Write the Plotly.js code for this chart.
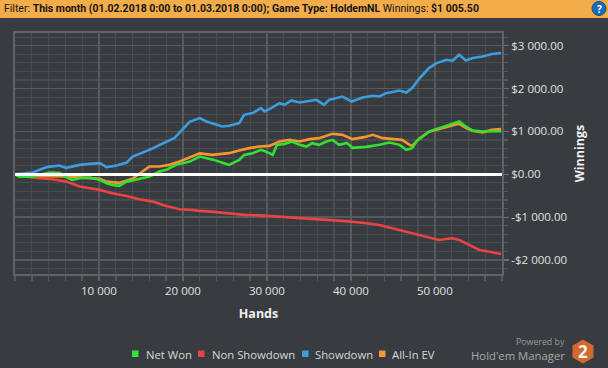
<!DOCTYPE html>
<html>
<head>
<meta charset="utf-8">
<script src="https://cdn.plot.ly/plotly-3.0.1.min.js"></script>
<style>
html,body{margin:0;padding:0;background:#383b3f;}
#chart{width:608px;height:368px;}
</style>
</head>
<body>
<div id="chart"></div>
<script>
// ---- data ----
const seriesNames = ["Net Won", "Non Showdown", "Showdown", "All-In EV"];

const netWonHands = [0,500,2100,4100,5300,6100,6800,7700,8900,10100,10900,11600,12400,13300,14000,15200,16000,17200,18000,19200,20800,22000,22800,23700,24900,25500,26700,27300,28300,29300,30300,30700,31200,32100,33000,33900,34700,35400,36200,37100,37800,38600,39500,40200,41800,43400,44600,45800,46600,47300,47800,48500,49300,50500,51700,52900,53700,54500,55700,57300,57900];
const netWonValues = [0,-54,-54,40,33,-68,-131,-91,-77,-131,-208,-248,-271,-171,-147,-91,-54,63,103,220,297,413,376,336,259,220,336,453,493,570,493,453,687,710,764,687,647,726,687,764,804,687,733,617,640,687,741,687,570,610,764,881,997,1077,1154,1231,1114,1021,997,1014,1005];

const nonShowdownHands = [0,1400,2900,4500,6100,7700,8900,10100,11600,13300,14800,16400,18000,19600,21100,22000,23700,25500,27300,29100,30900,32700,34500,36200,38000,39800,41600,43400,44800,45800,48200,49700,50500,52100,52900,54500,55300,56500,57900];
const nonShowdownValues = [0,-54,-91,-114,-171,-287,-325,-364,-442,-505,-582,-638,-738,-815,-832,-855,-878,-913,-948,-960,-983,-995,-1018,-1042,-1065,-1100,-1135,-1182,-1252,-1299,-1416,-1493,-1532,-1493,-1532,-1689,-1766,-1806,-1859];

const showdownHands = [0,1400,2100,3900,5300,6100,7700,8900,10100,10900,12100,13300,14000,16000,17200,19000,20800,22000,22800,24700,25500,26700,27300,28300,29300,29700,30300,31500,32100,32900,33900,35100,35900,36800,37400,39000,40100,41400,42600,43400,44200,45800,46600,47300,48200,49300,50200,51400,52100,52900,53700,54500,55700,56800,57900];
const showdownValues = [0,26,40,173,203,150,220,243,259,166,203,273,413,570,686,850,1224,1310,1231,1114,1131,1194,1388,1427,1544,1465,1521,1661,1621,1722,1675,1722,1738,1621,1738,1815,1698,1792,1831,1815,1894,1955,1909,2011,2245,2478,2595,2672,2649,2789,2656,2712,2749,2806,2829];

const allInEVHands = [0,2100,6100,10100,10900,12400,14000,15200,16000,17200,18400,19600,22000,23500,25500,26700,27900,29100,30300,31500,32700,33900,35100,36200,37800,39000,40200,41600,42600,43800,44900,46100,47000,47300,48200,49300,50500,51700,52900,53700,54500,55700,56800,57900];
const allInEVValues = [0,-37,-49,-107,-171,-201,-107,56,180,180,220,297,488,453,493,554,610,647,663,764,804,764,820,843,944,920,820,867,920,843,820,804,687,663,843,990,1054,1107,1177,1084,1014,979,1037,1054];

const xTickVals = [10000,20000,30000,40000,50000];
const xTickText = ["10 000","20 000","30 000","40 000","50 000"];
const yTickVals = [-2000,-1000,0,1000,2000,3000];
const yTickText = ["-$2 000.00","-$1 000.00","$0.00","$1 000.00","$2 000.00","$3 000.00"];

const headerLabel = "Filter:";
const headerFilter = "This month (01.02.2018 0:00 to 01.03.2018 0:00); Game Type: HoldemNL";
const headerWinLabel = "Winnings:";
const headerWinValue = "$1 005.50";

// ---- styling ----
const colors = {"Net Won":"#33e033","Non Showdown":"#e84444","Showdown":"#3a9ee0","All-In EV":"#f5962f"};
const W = 608, H = 368;
const M = {l:15, r:106, t:33, b:94};
const PW = W - M.l - M.r, PH = H - M.t - M.b;
const px = x => (x - M.l) / PW;
const py = y => (H - M.b - y) / PH;

const seriesData = {
  "Net Won":[netWonHands, netWonValues],
  "Non Showdown":[nonShowdownHands, nonShowdownValues],
  "Showdown":[showdownHands, showdownValues],
  "All-In EV":[allInEVHands, allInEVValues]
};
const drawOrder = ["Non Showdown","Showdown","All-In EV","Net Won"];
const traces = drawOrder.map(n => ({
  type:"scatter", mode:"lines", name:n,
  x: seriesData[n][0], y: seriesData[n][1],
  line:{color:colors[n], width:2.6},
  showlegend:false, hoverinfo:"skip"
}));

const FONT = "Open Sans, Noto Sans, sans-serif";
const shapes = [];
const annotations = [];

// header bar
shapes.push({type:"rect", xref:"paper", yref:"paper", x0:px(0), x1:px(W), y0:py(18), y1:py(0),
  fillcolor:"#f2ac4a", line:{width:0}, layer:"above"});
// help icon
shapes.push({type:"circle", xref:"paper", yref:"paper", x0:px(592), x1:px(606), y0:py(15.5), y1:py(1.5),
  fillcolor:"#1d6cb3", line:{color:"#0d4f8f", width:1}, layer:"above"});
annotations.push({xref:"paper", yref:"paper", x:px(599), y:py(8.7), xanchor:"center", yanchor:"middle",
  text:"<b>?</b>", showarrow:false, font:{family:FONT, size:10, color:"#ffffff"}});
annotations.push({xref:"paper", yref:"paper", x:px(2), y:py(9), xanchor:"left", yanchor:"middle",
  text: headerLabel + " <b>" + headerFilter + "</b> " + headerWinLabel + " <b>" + headerWinValue + "</b>",
  showarrow:false, font:{family:"Roboto, sans-serif", size:10.5, color:"#141414"}});

// legend (manual, square swatches)
const legendPos = [[132,144],[198,210],[302,313],[379,390]];
seriesNames.forEach((n,i) => {
  const [sx, tx] = legendPos[i];
  shapes.push({type:"rect", xref:"paper", yref:"paper", x0:px(sx), x1:px(sx+6.5), y0:py(357), y1:py(350.5),
    fillcolor:colors[n], line:{width:0}});
  annotations.push({xref:"paper", yref:"paper", x:px(tx), y:py(354), xanchor:"left", yanchor:"middle",
    text:n, showarrow:false, font:{family:FONT, size:11.3, color:"#d8d8d8"}});
});

// branding
annotations.push({xref:"paper", yref:"paper", x:px(567), y:py(342), xanchor:"right", yanchor:"middle",
  text:"Powered by", showarrow:false, font:{family:FONT, size:8.8, color:"#9a9a9a"}});
annotations.push({xref:"paper", yref:"paper", x:px(567), y:py(355.5), xanchor:"right", yanchor:"middle",
  text:"Hold'em Manager", showarrow:false, font:{family:FONT, size:11.3, color:"#aaaaaa"}});
const cx = 583, cy = 351.5, rx = 10.5, ry = 12;
const hex = [[cx,cy-ry],[cx+rx,cy-ry/2],[cx+rx,cy+ry/2],[cx,cy+ry],[cx-rx,cy+ry/2],[cx-rx,cy-ry/2]];
shapes.push({type:"path", xref:"paper", yref:"paper",
  path:"M" + hex.map(p => px(p[0]) + "," + py(p[1])).join(" L") + " Z",
  fillcolor:"#d2692c", line:{width:0}});
annotations.push({xref:"paper", yref:"paper", x:px(583), y:py(351.5), xanchor:"center", yanchor:"middle",
  text:"<b>2</b>", showarrow:false, font:{family:FONT, size:17, color:"#f4f4f4"}});

const layout = {
  width:W, height:H, margin:M,
  paper_bgcolor:"#383b3f", plot_bgcolor:"#383b3f",
  showlegend:false,
  xaxis:{
    range:[0,58000], tickmode:"array", tickvals:xTickVals, ticktext:xTickText,
    ticks:"outside", ticklen:5, tickcolor:"#5d6064", tickwidth:1.5,
    showgrid:true, gridcolor:"#56595d", gridwidth:1.5,
    minor:{tickmode:"linear", tick0:0, dtick:2000, showgrid:true, gridcolor:"#484b4f", gridwidth:1.2, ticks:"outside", ticklen:5, tickcolor:"#56595d"},
    showline:true, mirror:true, linecolor:"#5f6266", linewidth:2,
    zeroline:false,
    tickfont:{family:FONT, size:11.5, color:"#e2e2e2"},
    title:{text:"<b>Hands</b>", font:{family:FONT, size:12.5, color:"#f0f0f0"}, standoff:12}
  },
  yaxis:{
    side:"right", range:[-2327,3297], tickmode:"array", tickvals:yTickVals, ticktext:yTickText,
    ticks:"outside", ticklen:5, tickcolor:"#6a6d71", tickwidth:1.2,
    showgrid:true, gridcolor:"#56595d", gridwidth:1.5,
    minor:{tickmode:"linear", tick0:0, dtick:200, showgrid:true, gridcolor:"#484b4f", gridwidth:1.2, ticks:"outside", ticklen:4, tickcolor:"#56595d"},
    showline:true, mirror:true, linecolor:"#5f6266", linewidth:2,
    zeroline:true, zerolinecolor:"#ffffff", zerolinewidth:3, zerolinelayer:"above traces",
    tickfont:{family:FONT, size:11.5, color:"#e2e2e2"},
    title:{text:"<b>Winnings</b>", font:{family:FONT, size:12.5, color:"#f0f0f0"}, standoff:9}
  },
  shapes:shapes, annotations:annotations
};

Plotly.newPlot("chart", traces, layout, {staticPlot:true, displayModeBar:false});
</script>
</body>
</html>
